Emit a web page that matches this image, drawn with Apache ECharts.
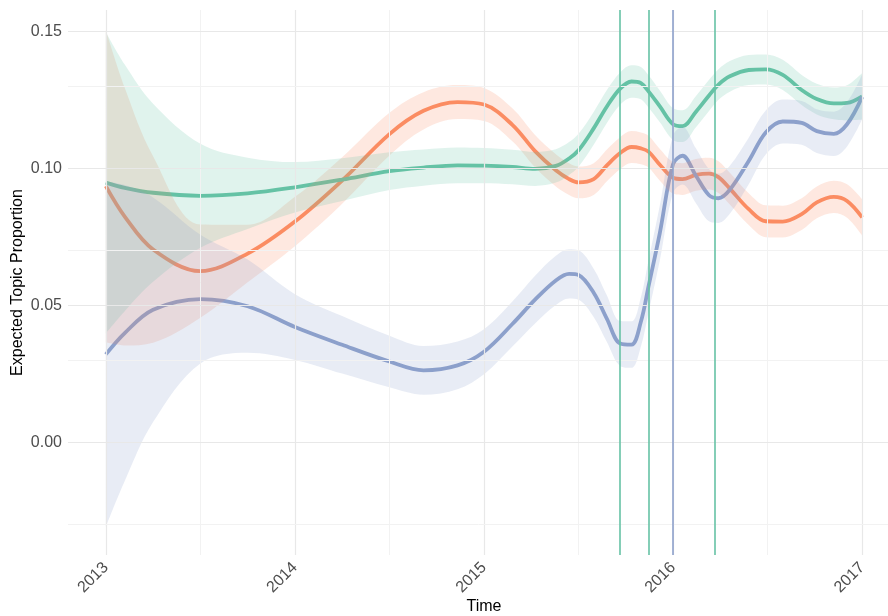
<!DOCTYPE html>
<html>
<head>
<meta charset="utf-8">
<script src="https://cdn.jsdelivr.net/npm/echarts@6/dist/echarts.min.js"></script>
<style>
html,body{margin:0;padding:0;background:#fff;}
#c{width:888px;height:616px;}
</style>
</head>
<body>
<div id="c"></div>
<script>
const times = [2013.0, 2013.1, 2013.25, 2013.5, 2013.75, 2014.0, 2014.25, 2014.5, 2014.68, 2014.86, 2015.0, 2015.15, 2015.27, 2015.38, 2015.45, 2015.5, 2015.58, 2015.65, 2015.72, 2015.78, 2015.83, 2015.87, 2015.93, 2016.0, 2016.05, 2016.12, 2016.19, 2016.24, 2016.3, 2016.4, 2016.49, 2016.58, 2016.68, 2016.76, 2016.85, 2016.92, 2017.0];

const greenMean = [0.0947, 0.0928, 0.0910, 0.0899, 0.0908, 0.0930, 0.0958, 0.0989, 0.1002, 0.1010, 0.1009, 0.1004, 0.0997, 0.1008, 0.1035, 0.1065, 0.1145, 0.1225, 0.1290, 0.1316, 0.1310, 0.1280, 0.1225, 0.1160, 0.1153, 0.1205, 0.1265, 0.1305, 0.1335, 0.1358, 0.1360, 0.1340, 0.1285, 0.1252, 0.1236, 0.1238, 0.1262];
const greenMargin = [0.055, 0.045, 0.0325, 0.019, 0.013, 0.0092, 0.0078, 0.0069, 0.0066, 0.0065, 0.0064, 0.0063, 0.0062, 0.0061, 0.0060, 0.0060, 0.0060, 0.0060, 0.0059, 0.0059, 0.0059, 0.0059, 0.0058, 0.0058, 0.0058, 0.0057, 0.0057, 0.0056, 0.0056, 0.0055, 0.0055, 0.0055, 0.0055, 0.0056, 0.0058, 0.0064, 0.0085];

const orangeMean = [0.0934, 0.0823, 0.0703, 0.0624, 0.0688, 0.0805, 0.0955, 0.1124, 0.1209, 0.1241, 0.1232, 0.1158, 0.1062, 0.0992, 0.0960, 0.0948, 0.0960, 0.1010, 0.1055, 0.1077, 0.1072, 0.1060, 0.1012, 0.0965, 0.0960, 0.0975, 0.0980, 0.0967, 0.0925, 0.0850, 0.0806, 0.0805, 0.0832, 0.0875, 0.0895, 0.0880, 0.0820];
const orangeMargin = [0.057, 0.047, 0.034, 0.017, 0.0105, 0.0090, 0.0085, 0.0078, 0.0068, 0.0062, 0.0060, 0.0060, 0.0059, 0.0059, 0.0058, 0.0058, 0.0058, 0.0058, 0.0058, 0.0058, 0.0058, 0.0058, 0.0058, 0.0058, 0.0058, 0.0058, 0.0058, 0.0058, 0.0058, 0.0058, 0.0058, 0.0058, 0.0058, 0.0058, 0.0059, 0.0061, 0.0066];

const blueMean = [0.0320, 0.0398, 0.0483, 0.0522, 0.0496, 0.0420, 0.0355, 0.0294, 0.0262, 0.0280, 0.0330, 0.0431, 0.0520, 0.0590, 0.0614, 0.0610, 0.0545, 0.0450, 0.0360, 0.0356, 0.0440, 0.0568, 0.0764, 0.1015, 0.1045, 0.0973, 0.0901, 0.0890, 0.0921, 0.1026, 0.1130, 0.1170, 0.1165, 0.1135, 0.1125, 0.1160, 0.1260];
const blueMargin = [0.063, 0.054, 0.041, 0.0235, 0.017, 0.012, 0.0105, 0.0094, 0.0089, 0.0087, 0.0082, 0.0082, 0.0087, 0.0090, 0.0090, 0.0090, 0.0088, 0.0085, 0.0082, 0.0085, 0.0090, 0.0095, 0.0100, 0.0105, 0.0105, 0.0100, 0.0095, 0.0090, 0.0088, 0.0085, 0.0080, 0.0080, 0.0080, 0.0080, 0.0081, 0.0081, 0.0082];

const greenEvents = [2015.716, 2015.866, 2016.22];
const blueEvents = [2016.0];

const xTicks = [2013, 2014, 2015, 2016, 2017];
const xMinor = [2013.5, 2014.5, 2015.5, 2016.5];
const yTicks = [0, 0.05, 0.10, 0.15];
const yMinor = [-0.025, 0.025, 0.075, 0.125];

const topics = [
  {name: 'orange', color: '#fc8d62', fill: 'rgba(252,141,98,0.2)', mean: orangeMean, margin: orangeMargin},
  {name: 'green', color: '#66c2a5', fill: 'rgba(102,194,165,0.2)', mean: greenMean, margin: greenMargin},
  {name: 'blue', color: '#8da0cb', fill: 'rgba(141,160,203,0.2)', mean: blueMean, margin: blueMargin}
];

const SMOOTH = 0.35;
const series = [];

// grid lines
const gridLines = [];
xTicks.forEach(v => gridLines.push({xAxis: v, lineStyle: {color: '#e8e8e8', width: 1.2, type: 'solid'}}));
xMinor.forEach(v => gridLines.push({xAxis: v, lineStyle: {color: '#f2f2f2', width: 1, type: 'solid'}}));
yTicks.forEach(v => gridLines.push({yAxis: v, lineStyle: {color: '#e8e8e8', width: 1.2, type: 'solid'}}));
yMinor.forEach(v => gridLines.push({yAxis: v, lineStyle: {color: '#f2f2f2', width: 1, type: 'solid'}}));
series.push({
  type: 'line', data: [], z: 0, silent: true,
  markLine: {silent: true, symbol: ['none', 'none'], label: {show: false}, animation: false, data: gridLines}
});

topics.forEach(t => {
  series.push({
    name: t.name + '-line', type: 'line', z: 2, smooth: SMOOTH, symbol: 'none',
    lineStyle: {color: t.color, width: 3.8}, silent: true,
    data: times.map((x, i) => [x, t.mean[i]])
  });
});
// bands: value first so the stacked dimension is the y value
topics.forEach(t => {
  series.push({
    name: t.name + '-lo', type: 'line', z: 3, smooth: SMOOTH, symbol: 'none',
    stack: t.name + '-band', stackStrategy: 'all',
    encode: {x: 1, y: 0},
    lineStyle: {width: 0, opacity: 0}, silent: true,
    data: times.map((x, i) => [t.mean[i] - t.margin[i], x])
  });
  series.push({
    name: t.name + '-band', type: 'line', z: 3, smooth: SMOOTH, symbol: 'none',
    stack: t.name + '-band', stackStrategy: 'all',
    encode: {x: 1, y: 0},
    lineStyle: {width: 0, opacity: 0}, silent: true,
    areaStyle: {color: t.fill, opacity: 1},
    data: times.map((x, i) => [2 * t.margin[i], x])
  });
});

const eventLines = [];
greenEvents.forEach(v => eventLines.push({xAxis: v, lineStyle: {color: '#66c2a5', width: 1.6, type: 'solid'}}));
blueEvents.forEach(v => eventLines.push({xAxis: v, lineStyle: {color: '#8da0cb', width: 1.6, type: 'solid'}}));
series.push({
  type: 'line', data: [], z: 5, silent: true,
  markLine: {silent: true, symbol: ['none', 'none'], label: {show: false}, animation: false, data: eventLines}
});

const FONT = "'Liberation Sans', Arial, sans-serif";
const chart = echarts.init(document.getElementById('c'), null, {renderer: 'canvas'});
chart.setOption({
  animation: false,
  backgroundColor: '#ffffff',
  grid: {left: 68, right: -12, top: 10, bottom: 61, containLabel: false, outerBoundsMode: 'none'},
  xAxis: {
    type: 'value', min: 2012.8, max: 2017.2,
    name: 'Time', nameLocation: 'middle', nameGap: 44, nameMoveOverlap: false,
    nameTextStyle: {color: '#000', fontSize: 16, fontFamily: FONT},
    axisLine: {show: false}, axisTick: {show: false}, splitLine: {show: false},
    axisLabel: {customValues: xTicks, rotate: 45, margin: 10, color: '#4d4d4d', fontSize: 16, fontFamily: FONT,
      formatter: v => String(Math.round(v))}
  },
  yAxis: {
    type: 'value', min: -0.0412, max: 0.1577,
    name: 'Expected Topic Proportion', nameLocation: 'middle', nameGap: 42, nameMoveOverlap: false,
    nameTextStyle: {color: '#000', fontSize: 16, fontFamily: FONT},
    axisLine: {show: false}, axisTick: {show: false}, splitLine: {show: false},
    axisLabel: {customValues: yTicks, margin: 6, color: '#4d4d4d', fontSize: 16, fontFamily: FONT,
      formatter: v => v.toFixed(2)}
  },
  series: series
});
</script>
</body>
</html>
